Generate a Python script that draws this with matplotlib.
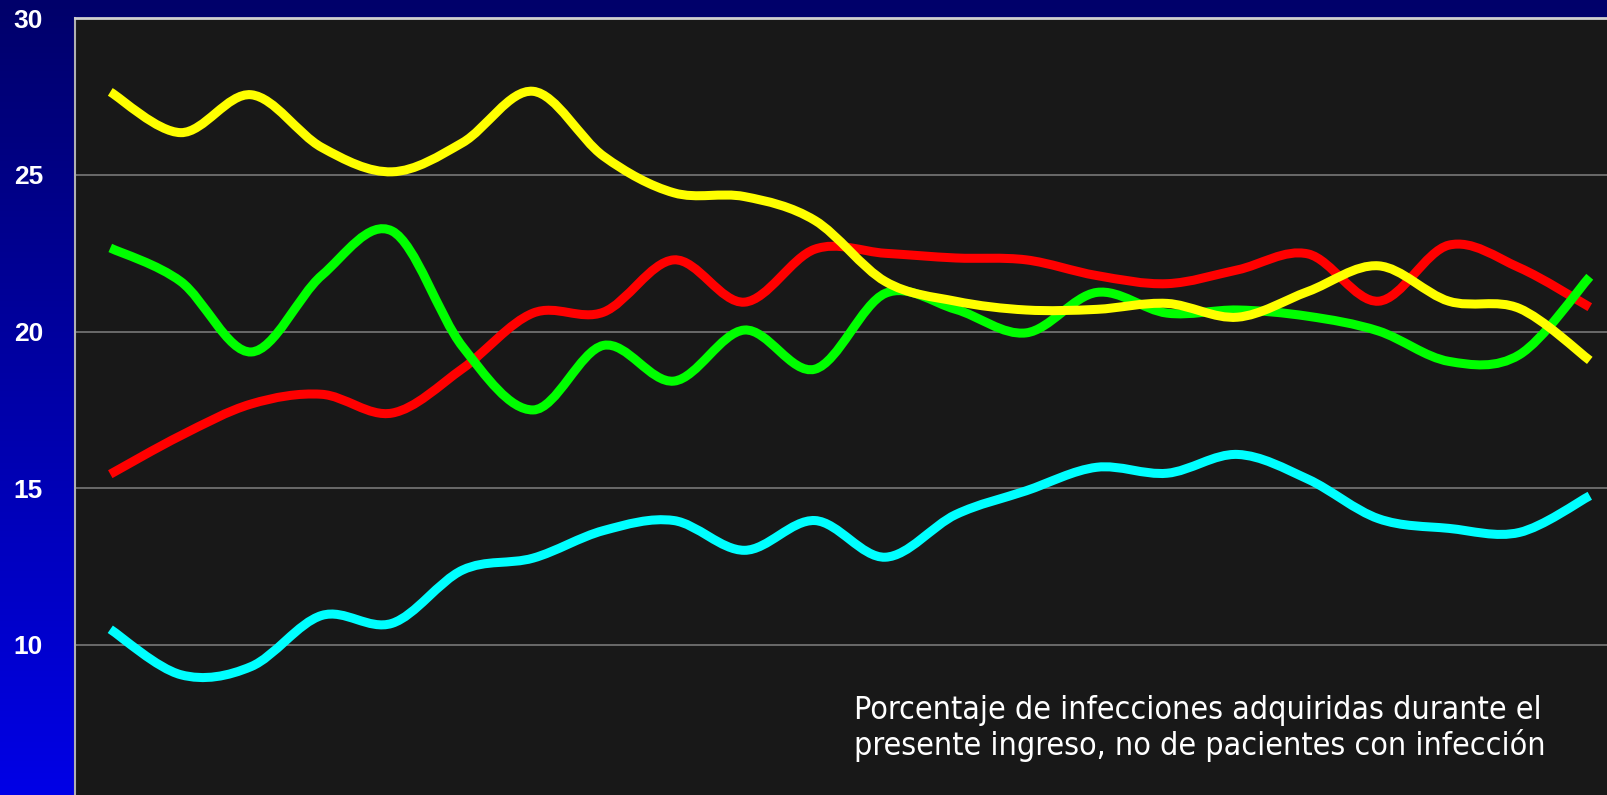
import numpy as np
import matplotlib.pyplot as plt
from matplotlib import font_manager
from matplotlib.font_manager import FontProperties
from matplotlib.path import Path
from matplotlib.patches import PathPatch

# Values (22 periods)
periods = list(range(22))

red = [15.45, 16.68, 17.69, 18.0, 17.4, 18.82, 20.59, 20.62, 22.29, 20.94, 22.63,
       22.5, 22.35, 22.29, 21.79, 21.53, 21.97, 22.48, 20.97, 22.76, 22.04, 20.78]
green = [22.67, 21.6, 19.35, 21.79, 23.21, 19.52, 17.5, 19.56, 18.42, 20.05, 18.8,
         21.22, 20.71, 19.96, 21.25, 20.59, 20.69, 20.49, 20.02, 19.05, 19.26, 21.75]
yellow = [27.65, 26.35, 27.56, 25.88, 25.1, 26.03, 27.67, 25.6, 24.43, 24.31, 23.55,
          21.6, 20.97, 20.69, 20.71, 20.9, 20.46, 21.28, 22.1, 20.97, 20.74, 19.08]
cyan = [10.5, 9.05, 9.31, 10.94, 10.69, 12.39, 12.77, 13.65, 13.97, 13.02, 13.97,
        12.8, 14.16, 14.92, 15.67, 15.48, 16.08, 15.29, 14.03, 13.72, 13.59, 14.76]

series = [(red, "#ff0000"), (green, "#00ff00"), (yellow, "#ffff00"), (cyan, "#00ffff")]

y_ticks = [10, 15, 20, 25, 30]
note = "Porcentaje de infecciones adquiridas durante el\npresente ingreso, no de pacientes con infección"


def smooth_path(x, y):
    # smoothed line drawn as cubic bezier segments (Catmull-Rom control points)
    pts = np.column_stack([x, y]).astype(float)
    ext = np.vstack([pts[0], pts, pts[-1]])
    verts = [pts[0]]
    codes = [Path.MOVETO]
    for i in range(len(pts) - 1):
        p0, p1, p2, p3 = ext[i], ext[i + 1], ext[i + 2], ext[i + 3]
        verts += [p1 + (p2 - p0) / 6, p2 - (p3 - p1) / 6, p2]
        codes += [Path.CURVE4] * 3
    return Path(verts, codes)


# upright condensed font for the note if one is installed
condensed = [f.fname for f in font_manager.fontManager.ttflist
             if f.fname.endswith("DejaVuSansCondensed.ttf")]
if condensed:
    note_fp = FontProperties(fname=condensed[0], size=23)
else:
    note_fp = FontProperties(family=["Liberation Sans", "DejaVu Sans"], size=23.5)

fig = plt.figure(figsize=(16.07, 7.95), dpi=100)

# blue gradient background
bg = fig.add_axes([0, 0, 1, 1], zorder=-1)
grad = np.linspace(0, 1, 256).reshape(-1, 1)
top = np.array([0x00, 0x00, 0x6a]) / 255
bot = np.array([0x00, 0x00, 0xe6]) / 255
img = top + grad[..., None] * (bot - top)
bg.imshow(img, aspect="auto", extent=[0, 1, 0, 1], origin="upper")
bg.axis("off")

ax = fig.add_axes([0.0467, -0.0083, 0.9645, 0.9853])
ax.set_facecolor("#181818")
ax.set_xlim(-0.5, 21.5)
ax.set_ylim(5, 30)

for vals, col in series:
    ax.add_patch(PathPatch(smooth_path(periods, vals), facecolor="none",
                           edgecolor=col, lw=6.5, capstyle="butt", zorder=3))

ax.set_yticks(y_ticks)
ax.set_yticklabels([str(t) for t in y_ticks], color="white", fontsize=19,
                   fontweight="bold", family=["Liberation Sans", "DejaVu Sans"])
ax.tick_params(axis="y", length=0, pad=23)
ax.set_xticks([])
ax.grid(axis="y", color="#707070", lw=1.3)
ax.set_axisbelow(True)

for side in ["right", "bottom"]:
    ax.spines[side].set_visible(False)
ax.spines["left"].set_color("#b0b0b0")
ax.spines["top"].set_color("#d0d0d0")
ax.spines["left"].set_linewidth(1.5)
ax.spines["top"].set_linewidth(2)

fig.text(854 / 1607, 1 - 755 / 795, note, color="white", fontproperties=note_fp,
         ha="left", va="baseline", linespacing=1.12)

fig.savefig("out.png", dpi=100)
